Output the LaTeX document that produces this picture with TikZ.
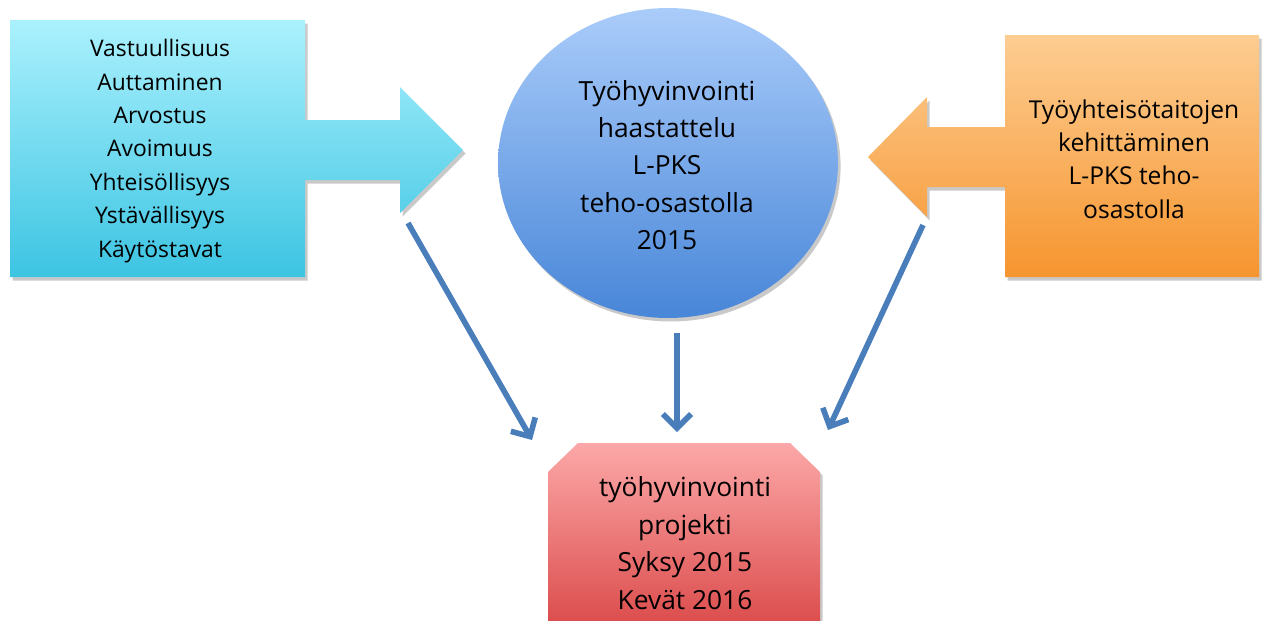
\documentclass[tikz,border=0pt]{standalone}
\usepackage{fontspec}
\setmainfont{Open Sans}
\usetikzlibrary{arrows.meta,shapes.geometric,shadows}
\definecolor{cyanT}{HTML}{ABF1FD}
\definecolor{cyanB}{HTML}{3CC4E2}
\definecolor{orT}{HTML}{FDCD92}
\definecolor{orB}{HTML}{F6952F}
\definecolor{blT}{HTML}{AACCFA}
\definecolor{blB}{HTML}{4886D8}
\definecolor{rdT}{HTML}{FCA8A8}
\definecolor{rdB}{HTML}{D84242}
\definecolor{arrowblue}{HTML}{4A7EBB}
\begin{document}
\begin{tikzpicture}[x=0.02cm,y=-0.02cm,
  txtA/.style={align=center, font=\fontsize{13}{19}\selectfont, inner sep=0pt},
  txtC/.style={align=center, font=\fontsize{14}{19}\selectfont, inner sep=0pt},
  txtB/.style={align=center, font=\fontsize{15}{21.3}\selectfont, inner sep=0pt},
  shd/.style={drop shadow={shadow xshift=1.5pt, shadow yshift=-2pt, opacity=0.3, fill=black!70}},
  conn/.style={draw=arrowblue, line width=3.2pt, -{Straight Barb[length=8pt,width=16pt]}}]
\clip (0,0) rectangle (1262,620);
% left callout
\path[shd, top color=cyanT, bottom color=cyanB]
  (10,20) -- (305,20) -- (305,120) -- (400,120) -- (400,87) -- (463,150)
  -- (400,213) -- (400,180) -- (305,180) -- (305,277) -- (10,277) -- cycle;
\node[txtA] (values) at (160,151) {Vastuullisuus\\Auttaminen\\Arvostus\\Avoimuus\\Yhteisöllisyys\\Ystävällisyys\\Käytöstavat};
% right callout
\path[shd, top color=orT, bottom color=orB]
  (1005,35) -- (1259,35) -- (1259,277) -- (1005,277) -- (1005,187) -- (927,187)
  -- (927,217) -- (868,157) -- (927,97) -- (927,127) -- (1005,127) -- cycle;
\node[txtC] (skills) at (1134,159) {Työyhteisötaitojen\\kehittäminen\\L-PKS teho-\\osastolla};
% circle
\node[ellipse, shd, top color=blT, bottom color=blB, minimum width=6.8cm, minimum height=6.2cm, inner sep=0pt] (circ) at (668,163) {};
\node[txtB] (interview) at (667,165) {Työhyvinvointi\\haastattelu\\L-PKS\\teho-osastolla\\2015};
% bottom box
\path[shd, top color=rdT, bottom color=rdB]
  (578,443) -- (790,443) -- (820,472) -- (820,645) -- (548,645) -- (548,472) -- cycle;
\node[txtB] (project) at (685,543) {työhyvinvointi\\projekti\\Syksy 2015\\Kevät 2016};
% connectors
\coordinate (s1) at (408,223);
\coordinate (e1) at (532,440);
\coordinate (s2) at (677,333);
\coordinate (e2) at (677,432);
\coordinate (s3) at (923,225);
\coordinate (e3) at (828,430);
\draw[conn] (s1) -- (e1);
\draw[conn] (s2) -- (e2);
\draw[conn] (s3) -- (e3);
\end{tikzpicture}
\end{document}
